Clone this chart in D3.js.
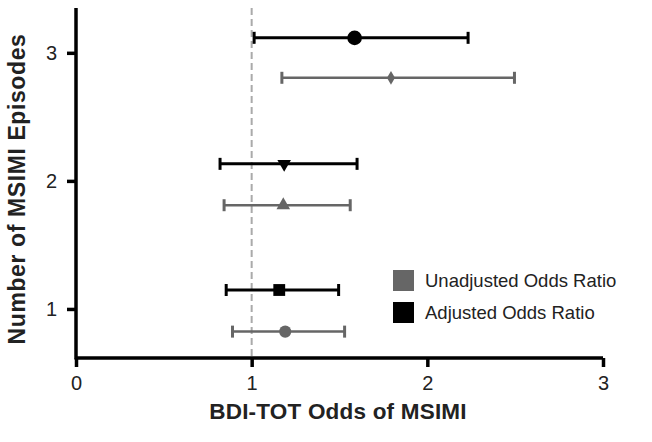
<!DOCTYPE html>
<html><head><meta charset="utf-8">
<script src="https://cdn.jsdelivr.net/npm/d3@7"></script>
<style>body{margin:0;background:#fff}svg{display:block;font-family:"Liberation Sans",Arial,sans-serif}</style>
</head><body><svg id="c" width="652" height="442"></svg>
<script>
const xTicks = [0, 1, 2, 3];
const yTicks = [1, 2, 3];
const episodes = [1, 2, 3];
// Adjusted odds ratios (black)
const adjOR = [1.157, 1.185, 1.586];
const adjLo = [0.855, 0.82, 1.014];
const adjHi = [1.495, 1.60, 2.232];
const adjY  = [1.148, 2.133, 3.117];
const adjShape = ["square", "triangleDown", "circle"];
// Unadjusted odds ratios (gray)
const unOR = [1.191, 1.18, 1.793];
const unLo = [0.891, 0.843, 1.172];
const unHi = [1.529, 1.561, 2.496];
const unY  = [0.823, 1.81, 2.805];
const unShape = ["circle", "triangleUp", "diamond"];
const legendLabels = ["Unadjusted Odds Ratio", "Adjusted Odds Ratio"];
const refLine = 1;

const svg = d3.select("#c");
const x = d3.scaleLinear().domain([0, 3]).range([76, 603]);
const y = d3.scaleLinear().domain([0.617, 3.35]).range([358, 8]);

// reference line
svg.append("line").attr("x1", x(refLine)).attr("x2", x(refLine))
  .attr("y1", y(3.35)).attr("y2", y(0.617))
  .attr("stroke", "#aaa").attr("stroke-width", 2).attr("stroke-dasharray", "7,4");

function bars(series, color, sw) {
  const g = svg.append("g");
  series.forEach(d => {
    g.append("line").attr("x1", x(d.lo)).attr("x2", x(d.hi)).attr("y1", y(d.y)).attr("y2", y(d.y))
      .attr("stroke", color).attr("stroke-width", sw);
    [d.lo, d.hi].forEach(v => g.append("line").attr("x1", x(v)).attr("x2", x(v))
      .attr("y1", y(d.y) - 6).attr("y2", y(d.y) + 6).attr("stroke", color).attr("stroke-width", 3));
    const sym = {
      circle: d3.symbolCircle, square: d3.symbolSquare, diamond: d3.symbolDiamond,
      triangleUp: d3.symbolTriangle, triangleDown: d3.symbolTriangle
    }[d.shape];
    g.append("path").attr("d", d3.symbol().type(sym).size(d.size)())
      .attr("transform", `translate(${x(d.or)},${y(d.y)})` + (d.shape === "triangleDown" ? " rotate(180)" : ""))
      .attr("fill", color);
  });
}
const sizes = {circle: 0, square: 140, diamond: 55, triangleUp: 80, triangleDown: 80};
bars(episodes.map((e, i) => ({y: unY[i], or: unOR[i], lo: unLo[i], hi: unHi[i], shape: unShape[i],
  size: unShape[i] === "circle" ? 115 : sizes[unShape[i]]})), "#666", 2.5);
bars(episodes.map((e, i) => ({y: adjY[i], or: adjOR[i], lo: adjLo[i], hi: adjHi[i], shape: adjShape[i],
  size: adjShape[i] === "circle" ? 170 : sizes[adjShape[i]]})), "#000", 3);

// axes
const xa = svg.append("g").attr("transform", `translate(0,${y(0.617)})`)
  .call(d3.axisBottom(x).tickValues(xTicks).tickFormat(d3.format("d")).tickSize(9).tickSizeOuter(0));
const ya = svg.append("g").attr("transform", `translate(${x(0)},0)`)
  .call(d3.axisLeft(y).tickValues(yTicks).tickFormat(d3.format("d")).tickSize(9).tickSizeOuter(0));
[xa, ya].forEach(a => {
  a.select(".domain").attr("stroke", "#000").attr("stroke-width", 3.5);
  a.selectAll(".tick line").attr("stroke", "#000").attr("stroke-width", 3.5);
  a.selectAll(".tick text").attr("fill", "#222").attr("font-size", 20)
    .attr("font-family", "Liberation Sans, Arial, sans-serif");
});
xa.select(".domain").attr("d", `M${x(0)},0H${x(3)}`);
ya.select(".domain").attr("d", `M0,${y(0.617) + 1.5}V${y(3.35)}`);
xa.selectAll(".tick text").attr("dy", "1em");
ya.selectAll(".tick text").attr("dx", "-0.35em");

svg.append("text").attr("x", 338).attr("y", 419).attr("text-anchor", "middle")
  .attr("font-size", 22.5).attr("font-weight", "bold").attr("fill", "#222").attr("letter-spacing", 0.2)
  .text("BDI-TOT Odds of MSIMI");
svg.append("text").attr("transform", "translate(25,189) rotate(-90)").attr("text-anchor", "middle")
  .attr("font-size", 23).attr("font-weight", "bold").attr("fill", "#222").attr("letter-spacing", 0.6)
  .text("Number of MSIMI Episodes");

// legend
const lg = svg.append("g").attr("transform", "translate(393,270)");
legendLabels.forEach((t, i) => {
  lg.append("rect").attr("x", 0).attr("y", i * 32).attr("width", 21).attr("height", 21)
    .attr("fill", i === 0 ? "#666" : "#000");
  lg.append("text").attr("x", 32).attr("y", i * 32 + 17).attr("font-size", 18.5).attr("fill", "#222").text(t);
});
</script></body></html>
